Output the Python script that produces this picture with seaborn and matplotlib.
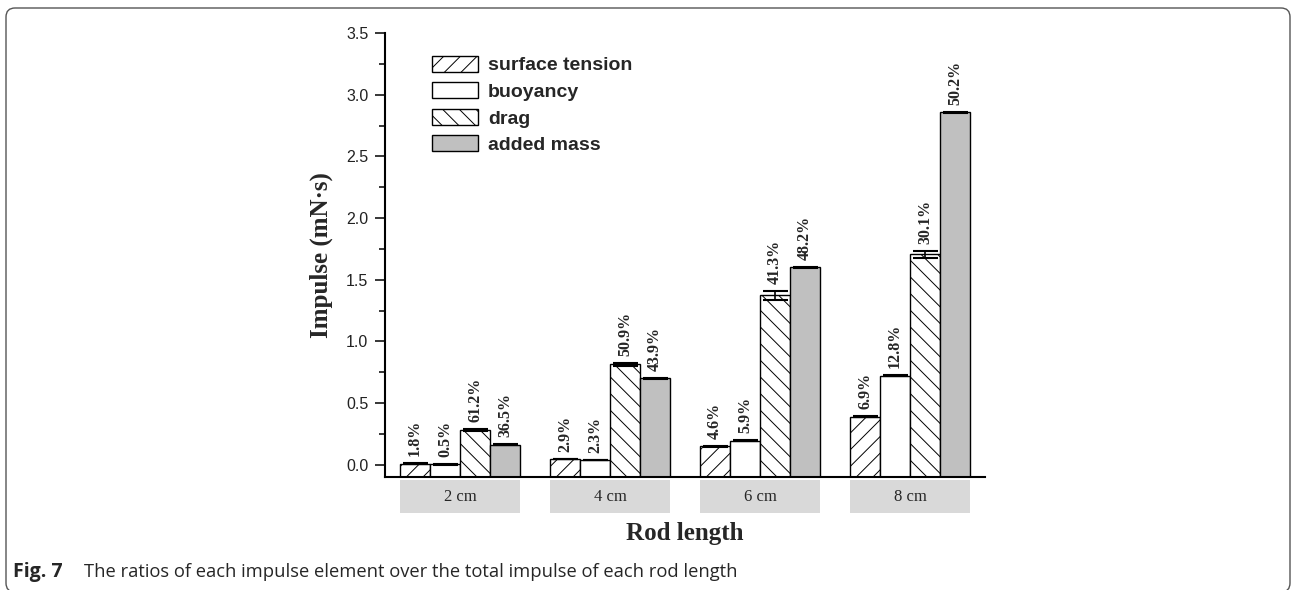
import numpy as np
import pandas as pd
import matplotlib
matplotlib.use("Agg")
import matplotlib.pyplot as plt
import seaborn as sns
from matplotlib.patches import Rectangle, FancyBboxPatch
from matplotlib.transforms import blended_transform_factory, IdentityTransform
from matplotlib.ticker import MultipleLocator, FormatStrFormatter

# ---------------- data ----------------
rod_lengths = ["2 cm", "4 cm", "6 cm", "8 cm"]
components = ["surface tension", "buoyancy", "drag", "added mass"]

surface_tension = [0.008, 0.046, 0.150, 0.390]
buoyancy = [0.002, 0.037, 0.195, 0.720]
drag = [0.280, 0.815, 1.372, 1.706]
added_mass = [0.163, 0.702, 1.600, 2.857]

err_surface_tension = [0.002, 0.004, 0.003, 0.005]
err_buoyancy = [0.001, 0.003, 0.003, 0.004]
err_drag = [0.008, 0.012, 0.034, 0.030]
err_added_mass = [0.004, 0.004, 0.005, 0.005]

pct_surface_tension = ["1.8%", "2.9%", "4.6%", "6.9%"]
pct_buoyancy = ["0.5%", "2.3%", "5.9%", "12.8%"]
pct_drag = ["61.2%", "50.9%", "41.3%", "30.1%"]
pct_added_mass = ["36.5%", "43.9%", "48.2%", "50.2%"]

fills = ["white", "white", "white", "#c0c0c0"]
hatches = ["//", "", "\\\\", ""]

df = pd.DataFrame({
    "rod": np.tile(rod_lengths, len(components)),
    "component": np.repeat(components, len(rod_lengths)),
    "impulse": np.concatenate([surface_tension, buoyancy, drag, added_mass]),
})
err_list = [err_surface_tension, err_buoyancy, err_drag, err_added_mass]
pct_list = [pct_surface_tension, pct_buoyancy, pct_drag, pct_added_mass]

# ---------------- style ----------------
sns.set_style("ticks")
plt.rcParams["font.family"] = ["Liberation Sans", "DejaVu Sans"]
plt.rcParams["hatch.linewidth"] = 0.7
plt.rcParams["hatch.color"] = "black"

W, H = 1291, 590
fig = plt.figure(figsize=(W / 100, H / 100), dpi=100)
ax = fig.add_axes([385 / W, 1 - 477 / H, 600 / W, 444 / H])

sns.barplot(data=df, x="rod", y="impulse", hue="component", order=rod_lengths,
            hue_order=components, palette=fills, saturation=1, errorbar=None,
            width=0.8, edgecolor="black", linewidth=1.0, legend=False, ax=ax)

bar_containers = list(ax.containers)
ymin, ymax = -0.1, 3.5
for container, hatch, errs, pcts in zip(bar_containers, hatches, err_list, pct_list):
    xs, tops = [], []
    for bar in container:
        h = bar.get_height()
        bar.set_hatch(hatch)
        bar.set_y(ymin)
        bar.set_height(h - ymin)
        xs.append(bar.get_x() + bar.get_width() / 2)
        tops.append(h)
    ax.errorbar(xs, tops, yerr=errs, fmt="none", ecolor="black", elinewidth=1.2,
                capsize=9, capthick=1.5, zorder=3)
    for x, t, e, p in zip(xs, tops, errs, pcts):
        ax.annotate(p, (x, t + e), xytext=(0, 5), textcoords="offset points",
                    rotation=90, ha="center", va="bottom",
                    fontfamily="Liberation Serif", fontweight="bold", fontsize=11.5)

# category boxes under axis
trans = blended_transform_factory(ax.transData, ax.transAxes)
for i in range(len(rod_lengths)):
    ax.add_patch(Rectangle((i - 0.4, -0.081), 0.8, 0.074, transform=trans,
                           facecolor="#d9d9d9", edgecolor="none", clip_on=False, zorder=0))

ax.set_xlim(-0.5, 3.5)
ax.set_ylim(ymin, ymax)

sns.despine(ax=ax)
for s in ["left", "bottom"]:
    ax.spines[s].set_linewidth(1.5)
    ax.spines[s].set_color("black")

ax.yaxis.set_major_locator(MultipleLocator(0.5))
ax.yaxis.set_minor_locator(MultipleLocator(0.25))
ax.yaxis.set_major_formatter(FormatStrFormatter("%.1f"))
ax.tick_params(axis="y", which="major", length=7, width=1.1, direction="out",
               labelsize=11.5, pad=5, colors="black", labelcolor="#222222")
ax.tick_params(axis="y", which="minor", length=4, width=1.1, direction="out", colors="black")
ax.tick_params(axis="x", length=0, pad=8.5)
for lab in ax.get_xticklabels():
    lab.set_fontfamily("Liberation Serif")
    lab.set_fontsize(12)

ax.set_ylabel("Impulse (mN·s)", fontfamily="Liberation Serif", fontweight="bold", fontsize=18)
ax.yaxis.set_label_coords(-0.087, 0.5)
ax.set_xlabel("Rod length", fontfamily="Liberation Serif", fontweight="bold", fontsize=18)
ax.xaxis.set_label_coords(0.5, -0.101)

handles = [c.patches[0] for c in bar_containers]
ax.legend(handles, components, loc="upper left", bbox_to_anchor=(0.078, 0.949),
          frameon=False, borderpad=0, borderaxespad=0, handlelength=2.4,
          handleheight=0.9, handletextpad=0.5, labelspacing=0.4,
          prop=dict(family="Liberation Sans", weight="bold", size=14))

# caption and frame
fig.text(13 / W, 13 / H, "Fig. 7", fontfamily="Open Sans", fontweight="bold",
         fontsize=14, va="baseline", ha="left")
fig.text(84 / W, 13 / H,
         "The ratios of each impulse element over the total impulse of each rod length",
         fontfamily="Open Sans", fontsize=13.2, va="baseline", ha="left")

frame = FancyBboxPatch((6, -2), 1284, 584, boxstyle="round,pad=0,rounding_size=9",
                       transform=IdentityTransform(), facecolor="none",
                       edgecolor="#555555", linewidth=1.0)
fig.patches.append(frame)

fig.savefig("out.png", dpi=100)
